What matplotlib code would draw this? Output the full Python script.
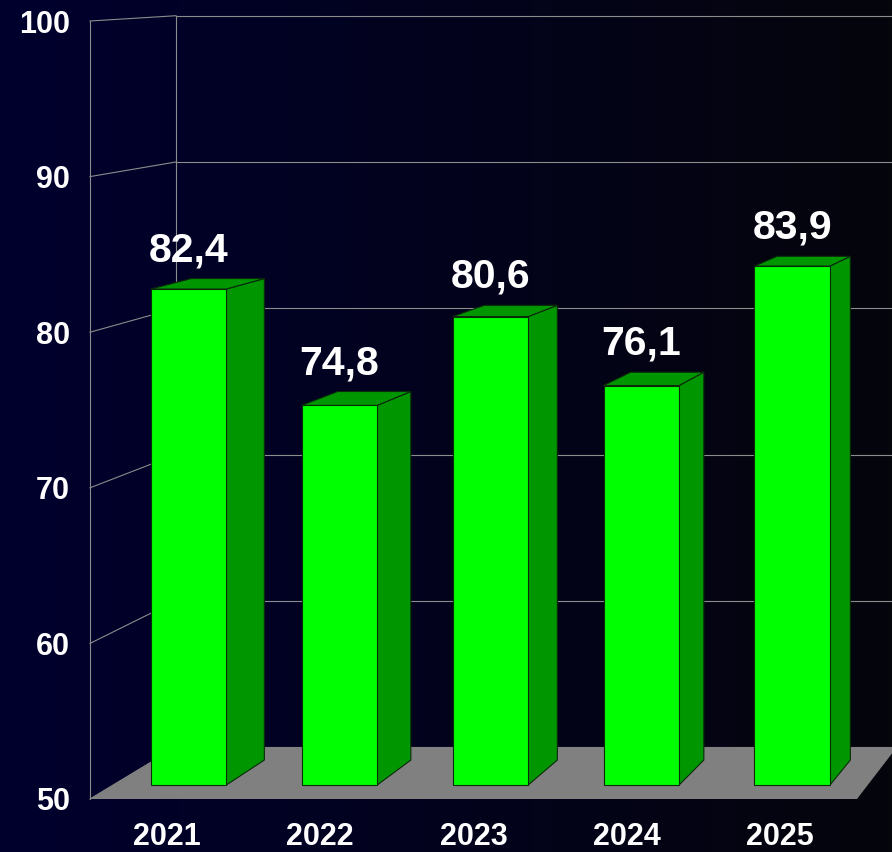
import numpy as np
from matplotlib import pyplot as plt
from matplotlib.patches import Polygon

years = ['2021', '2022', '2023', '2024', '2025']
values = [82.4, 74.8, 80.6, 76.1, 83.9]
yticks = [50, 60, 70, 80, 90, 100]

plt.rcParams['font.family'] = ['Liberation Sans', 'DejaVu Sans']

W, H = 892, 852
fig = plt.figure(figsize=(W / 100, H / 100), dpi=100)
ax = fig.add_axes([0, 0, 1, 1])
ax.set_axis_off()

# front plane: x=-0.5 at px 90, x=4.5 at px 857; 50 at px 799, 100 at px 21 (from top)
ux = (857 - 90) / 5.0
uy = (799 - 21) / 50.0
ax.set_xlim(-0.5 - 90 / ux, -0.5 + (W - 90) / ux)
ax.set_ylim(50 - (H - 799) / uy, 100 + 21 / uy)

# vanishing point (data coords) and depth scale factors
vp = np.array([-0.5 + (1523 - 90) / ux, 50 + (799 + 67) / uy])
F_FRONT, F_BACK = 1.0, 0.94
F_BAR0, F_BAR1 = 0.984, 0.955


def proj(x, v, f):
    p = vp + (np.array([x, v]) - vp) * f
    return p[0], p[1]


# background gradient
grad = np.linspace(0, 1, 256)[None, :, None]
c0 = np.array([0, 0, 46]) / 255
c1 = np.array([5, 5, 12]) / 255
img = c0 + (c1 - c0) * grad
ax.imshow(img, extent=[0, 1, 0, 1], transform=ax.transAxes, aspect='auto', zorder=0)

grid_c = '#8c8c8c'
x0, x1 = -0.5, 4.5
for t in yticks:
    # back wall line
    a = proj(x0, t, F_BACK)
    b = proj(x1 + 0.3, t, F_BACK)
    ax.plot([a[0], b[0]], [a[1], b[1]], color=grid_c, lw=0.8, zorder=1)
    # left wall line
    c = proj(x0, t, F_FRONT)
    ax.plot([c[0], a[0]], [c[1], a[1]], color=grid_c, lw=0.8, zorder=1)
for f in (F_FRONT, F_BACK):
    a = proj(x0, yticks[0], f)
    b = proj(x0, yticks[-1], f)
    ax.plot([a[0], b[0]], [a[1], b[1]], color=grid_c, lw=0.8, zorder=1)

# floor
floor = [proj(x0, 50, F_FRONT), proj(x1, 50, F_FRONT),
         proj(x1, 50, F_BACK), proj(x0, 50, F_BACK)]
ax.add_patch(Polygon(floor, closed=True, facecolor='#808080', edgecolor='none', zorder=2))

# bars
hw = 0.25
edge = '#0a2a0a'
for i, v in enumerate(values):
    l, r = i - hw, i + hw
    front = [proj(l, 50, F_BAR0), proj(r, 50, F_BAR0), proj(r, v, F_BAR0), proj(l, v, F_BAR0)]
    side = [proj(r, 50, F_BAR0), proj(r, 50, F_BAR1), proj(r, v, F_BAR1), proj(r, v, F_BAR0)]
    top = [proj(l, v, F_BAR0), proj(r, v, F_BAR0), proj(r, v, F_BAR1), proj(l, v, F_BAR1)]
    ax.add_patch(Polygon(side, closed=True, facecolor='#009600', edgecolor=edge, lw=0.8, zorder=3))
    ax.add_patch(Polygon(top, closed=True, facecolor='#009600', edgecolor=edge, lw=0.8, zorder=3))
    ax.add_patch(Polygon(front, closed=True, facecolor='#00ff00', edgecolor=edge, lw=0.8, zorder=4))
    cx, _ = proj(i, v, F_BAR0)
    _, ty = proj(r, v, F_BAR1)
    ax.annotate(f'{v:.1f}'.replace('.', ','), (cx, ty), xytext=(0, 12.5),
                textcoords='offset points', ha='center', va='baseline',
                color='white', fontsize=29.5, fontweight='bold', zorder=5)

# y tick labels
for t in yticks:
    ax.annotate(str(t), (x0, t), xytext=(-14.5, 0), textcoords='offset points',
                ha='right', va='center_baseline', color='white',
                fontsize=22, fontweight='bold', zorder=5)

# x labels
for i, yr in enumerate(years):
    ax.annotate(yr, (i, 50), xytext=(0, -33), textcoords='offset points',
                ha='center', va='baseline', color='white',
                fontsize=22, fontweight='bold', zorder=5)

fig.savefig('out.png', dpi=100)
